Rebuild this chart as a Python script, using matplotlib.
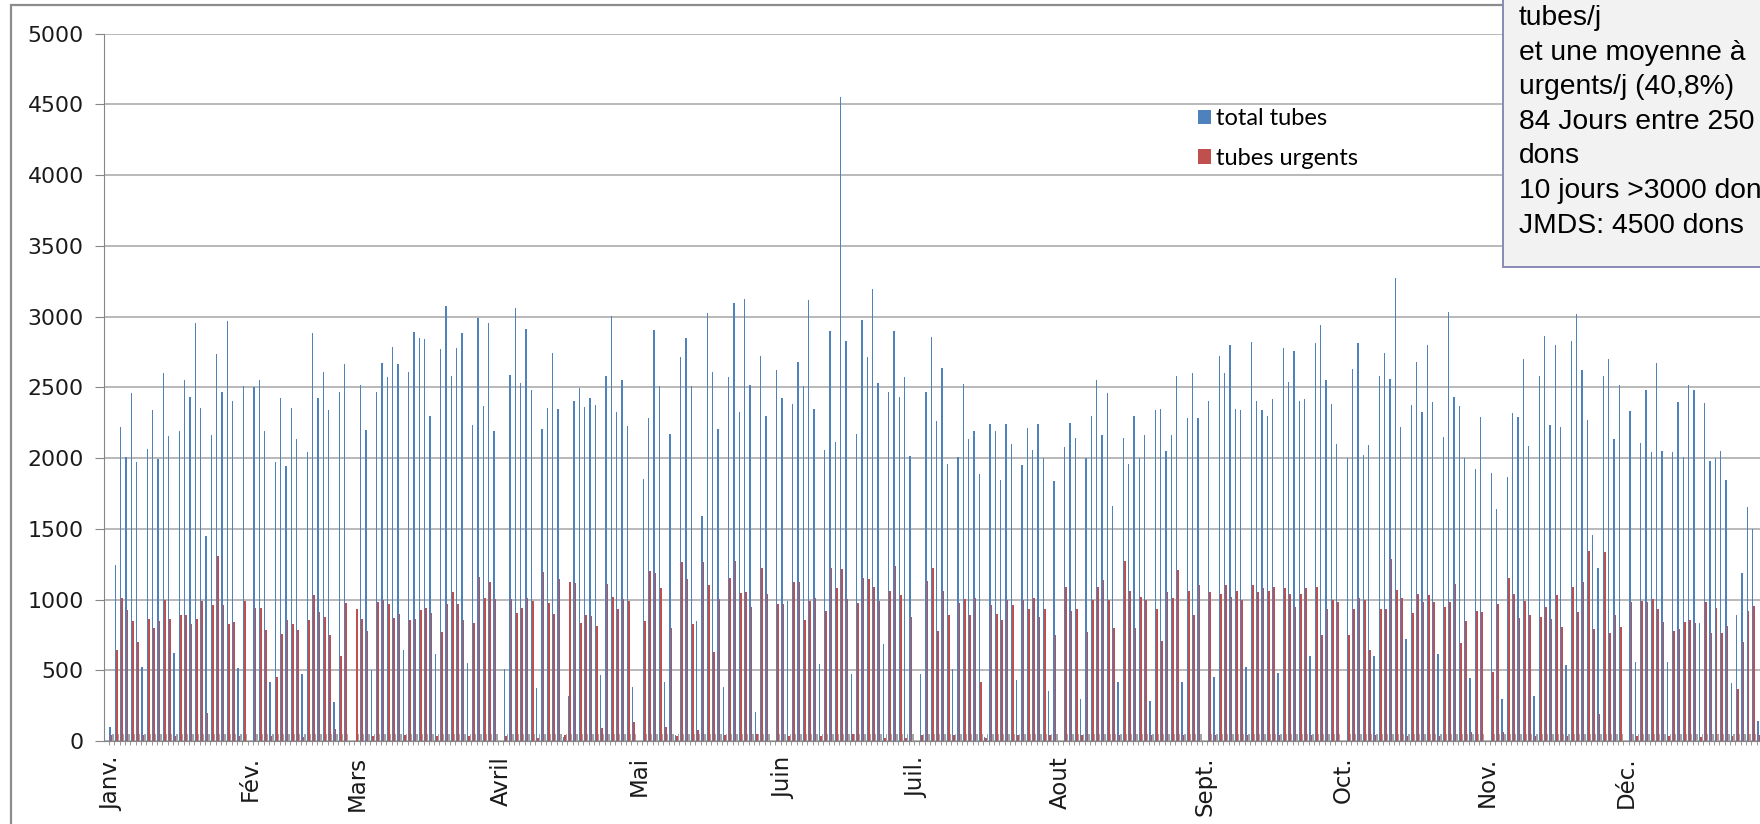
# Tubes par jour : total et urgents, un créneau par jour ouvré (lun.-sam.),
# un créneau vide en tête de chaque mois (sauf janvier)
import numpy as np
import matplotlib.pyplot as plt
from matplotlib.patches import Rectangle

# valeurs (0 = créneau vide)
total_tubes = [
    100, 1242, 2218, 2007, 2462, 1971, 524, 2061, 2338, 1994, 2599, 2154, 625,
    2188, 2555, 2435, 2953, 2355, 1450, 2164, 2735, 2468, 2969, 2401, 518, 2512,
    0, 2502, 2555, 2194, 414, 1974, 2422, 1941, 2355, 2138, 474, 2044, 2886,
    2422, 2605, 2338, 274, 2468, 2665,
    0, 0, 2520, 2195, 505, 2470, 2670, 2575, 2785, 2665, 641, 2612, 2889, 2846,
    2839, 2295, 615, 2769, 3073, 2578, 2779, 2886, 548, 2234, 2989, 2371, 2953,
    2194,
    0, 508, 2588, 3063, 2528, 2913, 2478, 374, 2204, 2351, 2746, 2345, 30, 317,
    2402, 2495, 2361, 2422, 2378, 464, 2578, 3003, 2328, 2552, 2228, 381,
    0, 1850, 2285, 2903, 2512, 414, 2171, 40, 2712, 2846, 2512, 848, 1593, 3023,
    2612, 2204, 381, 2572, 3096, 2328, 3123, 2518, 207, 2722, 2295,
    0, 2622, 2422, 992, 2385, 2679, 2512, 3120, 2345, 541, 2054, 2896, 2111,
    4549, 2829, 474, 2171, 2979, 2712, 3196, 2528, 685, 2468, 2896, 2435, 2572,
    2017,
    0, 474, 2468, 2853, 2261, 2635, 1961, 508, 2011, 2522, 2134, 2188, 1887, 30,
    2238, 2188, 1844, 2240, 2100, 430, 1950, 2210, 2060, 2240, 2000, 350, 1840,
    0, 2080, 2250, 2140, 300, 2000, 2300, 2550, 2160, 2460, 1660, 420, 2140,
    1960, 2300, 2000, 2160, 280, 2340, 2350, 2050, 2160, 2580, 420, 2280, 2600,
    2280,
    0, 2400, 450, 2720, 2600, 2800, 2350, 2340, 520, 2820, 2400, 2340, 2300,
    2420, 480, 2780, 2540, 2760, 2400, 2420, 600, 2810, 2940, 2550, 2380, 2100,
    0, 2000, 2630, 2810, 2020, 2090, 600, 2580, 2740, 2560, 3270, 2222, 719,
    2375, 2680, 2328, 2800, 2399, 615, 2147, 3030, 2430, 2370, 1998, 443, 1923,
    2288,
    0, 1897, 1638, 297, 1869, 2321, 2288, 2700, 2085, 320, 2580, 2860, 2234,
    2800, 2217, 537, 2830, 3020, 2620, 2269, 1456, 1221, 2580, 2700, 2133, 2520,
    0, 2335, 561, 2109, 2480, 2045, 2670, 2052, 556, 2041, 2399, 2005, 2520,
    2480, 832, 2387, 1981, 1998, 2052, 1845, 408, 891, 1185, 1652, 1497, 141,
]
tubes_urgents = [
    40, 641, 1009, 925, 848, 698, 40, 865, 798, 848, 999, 865, 33,
    892, 892, 825, 865, 992, 197, 959, 1309, 959, 825, 842, 33, 992,
    0, 942, 942, 785, 33, 451, 758, 852, 825, 785, 30, 858, 1032,
    915, 875, 751, 84, 601, 975,
    0, 933, 860, 780, 37, 980, 995, 965, 870, 897, 40, 858, 865, 925,
    942, 908, 33, 768, 969, 1052, 969, 858, 33, 832, 1159, 1009, 1126,
    1002,
    0, 33, 1002, 908, 942, 1009, 992, 23, 1192, 975, 898, 1142, 40, 1126,
    1119, 832, 892, 885, 815, 90, 1109, 1019, 932, 1005, 992, 134,
    0, 848, 1202, 1186, 1082, 100, 798, 33, 1266, 1142, 825, 80, 1266, 1102,
    631, 1002, 40, 1152, 1269, 1049, 1052, 949, 50, 1226, 1042,
    0, 969, 969, 33, 1126, 1126, 858, 992, 1009, 33, 919, 1226, 1082,
    1219, 1002, 50, 975, 1149, 1142, 1092, 992, 23, 1059, 1236, 1032, 23,
    875,
    0, 40, 1132, 1226, 775, 1059, 892, 40, 975, 1002, 892, 1009, 418, 20,
    959, 898, 852, 1000, 960, 40, 1000, 930, 1010, 880, 930, 40, 750,
    0, 1090, 920, 930, 40, 770, 1000, 1090, 1140, 1000, 800, 40, 1270,
    1060, 800, 1020, 1000, 40, 930, 710, 1050, 1010, 1210, 40, 1060, 890,
    1100,
    0, 1050, 40, 1040, 1100, 1020, 1060, 1000, 40, 1100, 1050, 1080, 1060,
    1090, 40, 1080, 1040, 950, 1040, 1080, 40, 1090, 750, 930, 1000, 980,
    0, 750, 930, 1010, 1000, 640, 40, 930, 930, 1290, 1070, 1013, 38,
    903, 1039, 980, 1032, 980, 38, 945, 980, 1110, 695, 850, 61, 919,
    910,
    0, 490, 968, 61, 1150, 1039, 867, 992, 891, 38, 874, 945, 860,
    1032, 804, 38, 1091, 910, 1126, 1343, 790, 191, 1334, 761, 891, 804,
    0, 980, 38, 990, 980, 1002, 933, 839, 38, 780, 790, 839, 855,
    832, 30, 980, 761, 938, 766, 815, 38, 365, 702, 921, 954, 40,
]
mois = ["Janv.", "Fév.", "Mars", "Avril", "Mai", "Juin", "Juil.", "Aout",
        "Sept.", "Oct.", "Nov.", "Déc."]
debut_mois = [0, 26, 46, 73, 99, 126, 151, 178, 205, 231, 258, 284]
encadre = ["tubes/j", "et une moyenne à", "urgents/j (40,8%)",
           "84 Jours entre 250", "dons", "10 jours >3000 dons",
           "JMDS: 4500 dons"]

total = np.array(total_tubes)
urgents = np.array(tubes_urgents)
n = len(total)
x = np.arange(n)
socle = np.where((total > 0) | (urgents > 0), 50, 0)   # petites barres grises

W, H = 1760, 824
fig = plt.figure(figsize=(W / 100, H / 100), dpi=100)

# cadre du graphique (coupé à droite et en bas)
fig.patches.append(Rectangle((11 / W, -0.1), 1.2, 1 - 5 / H + 0.1,
                             transform=fig.transFigure, fill=False,
                             edgecolor="#8c8c8c", linewidth=1.6, zorder=0))

px = 5.333  # largeur d'un créneau en pixels
x0 = -1.41
x1 = 312.6
ax = fig.add_axes([104 / W, 83 / H, (x1 - x0) * px / W, 707.3 / H])
ax.set_facecolor("none")

w = 0.28
b1 = ax.bar(x - w, total, width=w, color="#4f81bd", label="total tubes",
            zorder=3)
b2 = ax.bar(x, urgents, width=w, color="#c0504d", label="tubes urgents",
            zorder=3)
ax.bar(x + w, socle, width=w, color="#a5a5a5", zorder=3)

ax.set_xlim(x0, x1)
ax.set_ylim(0, 5000)
ax.set_yticks(np.arange(0, 5001, 500))
ax.yaxis.grid(True, color="#a6a6a6", linewidth=1.1, zorder=0)
ax.set_axisbelow(True)

for s in ["top", "right"]:
    ax.spines[s].set_visible(False)
ax.spines["left"].set_color("#868686")
ax.spines["bottom"].set_color("#868686")

ax.tick_params(axis="y", length=6.5, color="#868686", pad=8,
               labelsize=15.8, labelcolor="#1a1a1a")
ax.set_xticks(debut_mois)
ax.set_xticklabels(mois, rotation=90, fontsize=16.5, color="#1a1a1a")
ax.set_xticks(np.arange(n + 3) - 0.5, minor=True)
ax.tick_params(axis="x", which="major", length=0, pad=11)
ax.tick_params(axis="x", which="minor", length=3, color="#868686")

# légende
fig.legend(handles=[b1, b2], loc="upper left",
           bbox_to_anchor=(1198 / W, 1 - 108 / H), frameon=False,
           borderpad=0, borderaxespad=0, handlelength=0.55, handleheight=0.55,
           handletextpad=0.2, labelspacing=0.8,
           prop={"family": "Lato", "size": 17})

# encadré de commentaires (coupé en haut et à droite)
fig.patches.append(Rectangle((1503 / W, 1 - 267 / H), 0.3, 0.5,
                             transform=fig.transFigure, facecolor="#f2f2f2",
                             edgecolor="#8a8ab8", linewidth=1.4, zorder=5))
for i, ligne in enumerate(encadre):
    fig.text(1519 / W, 1 - (18 + 34.6 * i) / H, ligne, ha="left", va="center",
             fontsize=20.3, family="Liberation Sans", color="black", zorder=6)

fig.savefig("out.png", dpi=100)
